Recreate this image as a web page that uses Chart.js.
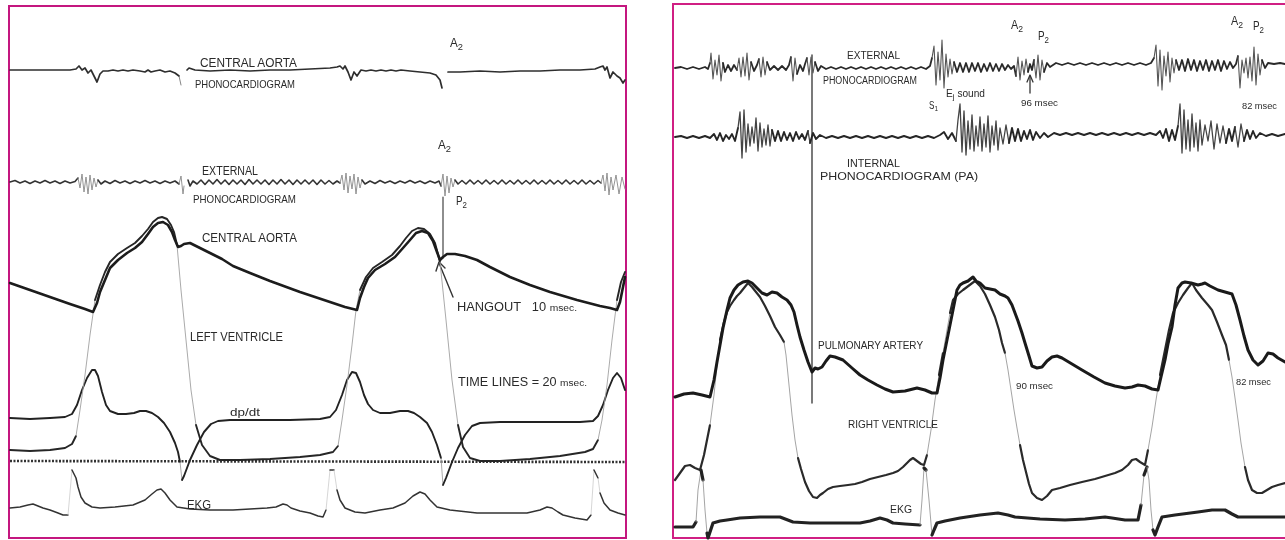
<!DOCTYPE html>
<html>
<head>
<meta charset="utf-8">
<script src="https://cdn.jsdelivr.net/npm/chart.js@4.4.1/dist/chart.umd.min.js"></script>
<style>
  body { margin: 0; width: 1285px; height: 540px; overflow: hidden; background: #fff; position: relative; }
  canvas { position: absolute; top: 0; }
  .frame { position: absolute; box-sizing: border-box; border: 2px solid #c4177f; }
  .note { position: absolute; white-space: nowrap; font-family: "Liberation Sans", Arial, sans-serif;
          color: #2a2a2a; line-height: 1; transform-origin: 0 50%; }
  .note sub { font-size: 0.8em; vertical-align: -0.35em; }
  .note small { font-size: 0.8em; }
</style>
</head>
<body>
<div class="frame" style="left:8px;top:5px;width:619px;height:534px"></div>
<div class="frame" style="left:672px;top:3px;width:640px;height:536px;border-color:#d01f83"></div>
<canvas id="leftPanel" width="640" height="540" style="left:0"></canvas>
<canvas id="rightPanel" width="640" height="540" style="left:645px"></canvas>
<script>
// ---- left panel: aortic / LV tracings (t = time, v = pen level) ----
const aortaPhono = [
  [10,70],[40,70],[70,70],[76,69],[79,66],[82,70],[85,68],[88,73],[91,70],[94,76],[97,82],[100,74],[103,71],
  [108,71],[113,70],[118,71],[123,70],[128,71],[133,70],[140,71],[145,72],[148,70],[151,72],[155,71],[160,70],
  [165,72],[170,71],[175,73],[179,76],[181,85], null,
  [187,70],[189,68],[195,70],[210,71],[230,70],[250,71],[270,70],[290,70],[310,69],[330,68],[337,67],[340,66],
  [343,69],[345,66],[348,72],[351,80],[354,72],[357,76],[361,70],[366,71],[371,70],[376,71],[381,70],[386,71],
  [391,70],[396,71],[401,70],[410,71],[420,72],[430,73],[436,75],[440,80],[442,88], null,
  [448,72],[460,72],[480,71],[500,72],[520,71],[540,71],[560,70],[580,70],[595,69],[600,67],[603,66],[605,70],
  [607,67],[610,78],[613,72],[617,76],[620,78],[623,83],[625,80]
];
const extPhonoL = [
  [10,182],[15,180.5],[20,183],[25,181],[30,183.5],[35,181],[40,183],[45,180.5],[50,183],[55,181],[60,183.5],
  [65,181],[70,183],[75,181.5],[78,178],[80,188],[82,174],[84,192],[86,177],[88,194],[90,175],[92,190],[94,178],
  [96,187],[98,180],[101,184],[105,181],[110,183.5],[115,180.5],[120,183],[125,181],[130,183.5],[135,181],
  [140,183],[145,180.5],[150,183],[155,181],[160,183.5],[165,181],[170,183],[175,181],[179,184],[181,176],
  [183,194],[184,186], null,
  [188,180],[190,186],[193,181],[197,184],[201,180],[205,184.5],[209,180],[213,184],[217,179.5],[221,184],
  [225,180],[229,184.5],[233,180],[237,184],[241,180],[245,184.5],[249,179.5],[253,184],[257,180],[261,184],
  [265,180],[269,184.5],[273,180],[277,184],[281,179.5],[285,184],[289,180],[293,184.5],[297,180],[301,184],
  [305,180],[309,184],[313,180],[317,184.5],[321,180],[325,184],[329,180.5],[333,184],[337,181],[340,183],
  [342,175],[344,190],[346,173],[348,193],[350,176],[352,189],[354,174],[356,194],[358,177],[360,188],[362,180],
  [365,184],[370,181],[375,183.5],[380,180.5],[385,183],[390,181],[395,183.5],[400,181],[405,183],[410,180.5],
  [415,183],[420,181],[425,183.5],[430,181],[435,183],[439,181],[441,186],[443,174],[445,196],[447,176],[449,193],
  [451,178],[453,187],[455,180],[458,184],[462,180.5],[466,184],[470,180],[474,184],[478,180.5],[482,184],
  [486,180],[490,184],[494,180.5],[498,184],[502,180],[506,184],[510,180.5],[514,184],[518,180],[522,184],
  [526,180.5],[530,184],[534,180],[538,184],[542,180.5],[546,184],[550,180],[554,184],[558,180.5],[562,184],
  [566,180],[570,184],[574,180.5],[578,184],[582,180],[586,184],[590,180.5],[594,184],[598,180.5],[601,183],
  [603,175],[605,191],[607,173],[609,195],[611,177],[613,190],[616,175],[619,194],[622,177],[625,189]
];
const aortaPressure = [
  [10,283],[30,290],[50,297],[70,304],[85,309],[93,312],[97,303],[100,292],[105,280],[110,268],[118,260],
  [127,253],[135,248],[142,242],[148,234],[153,227],[158,223],[163,222],[168,225],[172,232],[175,240],[178,247],
  [181,246],[184,244],[190,243],[200,248],[210,253],[222,259],[233,266],[250,273],[270,281],[300,292],[330,302],
  [345,307],[357,310],[360,298],[364,287],[368,278],[375,270],[385,264],[395,257],[403,248],[410,240],[416,233],
  [422,231],[428,233],[433,241],[437,252],[440,260],[443,257],[447,254],[455,254],[465,256],[477,260],[490,267],
  [510,277],[530,285],[550,292],[577,300],[600,306],[610,308],[617,310],[620,302],[622,292],[625,277]
];
const lvPressure = [
  [10,450],[30,451],[50,450],[65,448],[72,444],[76,436],[80,410],[85,375],[90,335],[95,300],[100,285],[105,272],
  [110,262],[118,254],[127,248],[135,243],[142,236],[148,229],[153,222],[158,218],[162,217],[167,219],[171,225],
  [174,232],[177,245],[181,290],[186,340],[191,390],[196,425],[202,445],[210,456],[220,460],[240,460],[270,459],
  [300,457],[320,455],[333,452],[338,446],[342,420],[347,385],[352,345],[356,310],[360,290],[366,277],[373,268],
  [382,262],[392,255],[400,246],[406,238],[412,231],[418,228],[424,229],[430,234],[435,243],[440,262],[446,320],
  [452,380],[458,425],[463,447],[470,458],[480,461],[500,461],[530,459],[560,456],[585,452],[593,449],[598,440],
  [602,420],[607,385],[612,340],[617,300],[621,282],[625,272]
];
const lvDpDt = [
  [10,418],[30,419],[50,418],[65,417],[72,414],[77,405],[82,390],[87,378],[92,370],[95,370],[98,376],[102,392],
  [106,405],[110,411],[118,414],[126,414],[134,413],[140,411],[146,411],[152,413],[158,417],[164,423],[170,432],
  [175,443],[178,452],[180,462],[182,480],[184,476],[190,460],[197,445],[204,432],[211,424],[218,421],[230,420],
  [260,420],[290,420],[320,419],[330,417],[336,410],[342,395],[347,380],[352,372],[356,373],[360,382],[364,395],
  [368,404],[373,410],[380,413],[390,413],[400,411],[408,411],[414,413],[420,417],[427,423],[432,432],[437,445],
  [441,458],[443,485],[446,478],[452,462],[458,448],[465,435],[472,426],[480,423],[500,422],[540,422],[580,422],
  [593,421],[598,416],[603,405],[608,390],[613,378],[617,373],[621,378],[625,390]
];
const timeBaseline = [[10,461],[626,462]];
const ekgL = [
  [10,508],[20,507],[28,505],[33,504],[38,506],[43,508],[50,510],[58,513],[63,515],[68,515],[72,470],[76,478],
  [78,487],[81,497],[85,503],[92,507],[100,508],[115,507],[133,505],[145,500],[152,494],[157,490],[161,489],
  [165,493],[170,500],[177,507],[190,509],[210,510],[233,510],[250,509],[267,508],[276,507],[283,504],[287,505],
  [291,508],[300,511],[310,513],[318,516],[323,517],[326,510],[330,470],[334,470],[337,490],[340,500],[345,508],
  [355,512],[365,513],[380,510],[393,508],[405,503],[413,496],[420,492],[425,494],[430,500],[437,507],[450,510],
  [477,513],[500,513],[527,513],[540,510],[547,507],[552,508],[558,512],[563,515],[575,518],[587,520],[591,515],
  [594,470],[598,478],[600,493],[604,503],[610,510],[618,513],[625,515]
];
const a2LineL = [[443,197],[443,258]];
const hangoutArrow = [[453,297],[439,263]];
const hangoutHead = [[436,271],[439,262],[445,268]];

// ---- right panel: pulmonary artery / RV tracings ----
const extPhonoR = [
  [675,68],[681,67],[687,69],[693,67],[699,69],[705,67],[708,69],[710,63],[711,53],[713,79],[715,60],[717,75],
  [719,55],[721,81],[723,63],[725,72],[728,65],[731,71],[734,65],[737,70],[739,58],[741,77],[743,57],[745,76],
  [747,53],[749,80],[751,62],[754,71],[757,65],[759,59],[761,77],[763,57],[765,75],[767,62],[770,70],[774,66],
  [778,70],[782,66],[786,70],[789,65],[791,57],[793,81],[795,58],[797,74],[800,65],[803,71],[805,64],[807,58],
  [809,75],[811,57],[813,73],[815,62],[818,71],[821,66],[826,69],[831,67],[836,69],[841,67],[846,69],[851,67],
  [856,69],[861,67],[866,69],[871,67],[876,69],[881,67],[886,69],[891,67],[896,69],[901,67],[906,69],[911,67],
  [916,69],[921,67],[926,69],[930,66],[932,58],[934,46],[936,85],[938,52],[940,80],[942,40],[944,88],[946,54],
  [948,77],[950,59],[952,74],[954,62],[957,72],[960,63],[963,72],[966,63],[969,72],[972,63],[975,71],[978,63],
  [981,72],[984,64],[987,71],[990,63],[993,71],[996,64],[999,71],[1002,64],[1005,70],[1008,65],[1011,69],
  [1014,66],[1016,76],[1018,57],[1020,80],[1022,61],[1024,75],[1026,59],[1028,72],[1030,64],[1032,70],[1034,60],
  [1036,78],[1038,55],[1040,80],[1042,60],[1044,72],[1047,63],[1050,67],[1056,63],[1062,65],[1068,63],[1074,65],
  [1080,63],[1086,65],[1092,63],[1098,65],[1104,63],[1110,65],[1116,63],[1122,65],[1128,63],[1134,65],[1140,63],
  [1146,65],[1151,63],[1154,58],[1156,45],[1158,86],[1160,50],[1162,90],[1164,56],[1166,76],[1168,52],[1170,82],
  [1172,58],[1174,73],[1176,60],[1179,70],[1182,60],[1185,71],[1188,59],[1191,70],[1194,60],[1197,71],[1200,61],
  [1203,70],[1206,60],[1209,71],[1212,61],[1215,70],[1218,60],[1221,71],[1224,61],[1227,69],[1230,62],[1233,68],
  [1236,64],[1238,56],[1240,88],[1242,60],[1244,73],[1246,58],[1248,78],[1250,57],[1252,81],[1254,47],[1256,85],
  [1258,54],[1260,75],[1262,60],[1265,68],[1268,63],[1274,64],[1280,63],[1285,64]
];
const intPhonoR = [
  [675,137],[681,136],[687,138],[693,136],[699,138],[705,136],[710,138],[714,134],[717,140],[720,133],[723,141],
  [726,135],[729,139],[732,134],[735,141],[738,128],[740,112],[742,158],[744,110],[746,152],[748,124],[750,146],
  [752,127],[754,143],[756,118],[758,151],[760,123],[762,147],[764,129],[766,145],[768,125],[770,146],[772,130],
  [775,141],[778,131],[781,141],[784,132],[787,140],[790,133],[793,141],[796,132],[799,139],[802,134],[805,140],
  [808,131],[810,143],[813,133],[816,139],[820,135],[826,138],[832,136],[838,138],[844,136],[850,138],[856,136],
  [862,138],[868,136],[874,138],[880,136],[886,138],[892,136],[898,138],[904,136],[910,138],[916,136],[922,138],
  [928,136],[934,138],[940,135],[944,132],[948,139],[952,133],[956,141],[958,120],[960,104],[962,152],[964,111],
  [966,155],[968,121],[970,149],[972,115],[974,151],[976,126],[978,146],[980,117],[982,151],[984,124],[986,147],
  [988,116],[990,152],[992,126],[994,145],[996,121],[998,150],[1000,128],[1003,144],[1006,125],[1009,143],
  [1012,128],[1015,141],[1018,129],[1021,141],[1024,131],[1027,139],[1030,130],[1033,140],[1036,132],[1040,138],
  [1044,133],[1048,137],[1054,133],[1060,135],[1066,133],[1072,135],[1078,133],[1084,135],[1090,133],[1096,135],
  [1102,133],[1108,135],[1114,133],[1120,135],[1126,133],[1132,135],[1138,133],[1144,135],[1150,133],[1156,135],
  [1160,131],[1163,138],[1166,129],[1169,141],[1172,130],[1175,140],[1178,126],[1180,104],[1182,153],[1184,110],
  [1186,149],[1188,120],[1190,151],[1192,114],[1194,147],[1196,123],[1198,151],[1200,120],[1202,145],[1205,125],
  [1208,141],[1211,121],[1214,149],[1217,124],[1220,143],[1223,126],[1226,143],[1229,129],[1232,141],[1235,127],
  [1238,147],[1241,124],[1244,141],[1247,130],[1250,139],[1253,131],[1256,138],[1260,133],[1266,136],[1272,134],
  [1278,136],[1285,134]
];
const paPressure = [
  [675,397],[684,394],[693,393],[702,395],[710,397],[714,380],[717,362],[720,345],[723,328],[727,310],[730,298],
  [734,290],[738,285],[743,282],[748,281],[752,283],[757,288],[762,293],[767,295],[772,292],[777,293],[782,297],
  [787,300],[791,305],[794,312],[797,325],[800,337],[804,350],[808,362],[812,372],[815,368],[818,369],[822,367],
  [826,361],[830,356],[835,357],[843,360],[852,368],[860,375],[868,380],[877,385],[885,389],[893,392],[905,391],
  [917,388],[925,390],[932,393],[937,393],[940,378],[943,360],[947,340],[950,325],[954,305],[957,290],[960,285],
  [963,283],[968,281],[973,277],[976,281],[980,283],[985,288],[990,289],[995,290],[1000,294],[1005,296],
  [1008,298],[1012,305],[1015,313],[1018,321],[1022,333],[1025,343],[1029,356],[1032,366],[1037,368],[1042,367],
  [1047,361],[1052,357],[1057,356],[1062,358],[1072,364],[1082,370],[1094,377],[1105,383],[1115,386],[1125,388],
  [1132,387],[1138,385],[1145,386],[1152,389],[1158,390],[1161,377],[1165,360],[1168,344],[1172,327],[1175,305],
  [1178,288],[1182,283],[1185,282],[1191,283],[1198,285],[1202,284],[1205,283],[1210,286],[1218,290],[1225,292],
  [1232,294],[1236,305],[1240,320],[1244,336],[1248,350],[1253,360],[1258,365],[1263,361],[1268,353],[1273,354],
  [1278,358],[1285,362]
];
const rvPressure = [
  [675,480],[680,473],[685,466],[690,465],[695,468],[700,470],[704,455],[707,440],[710,425],[714,395],[717,365],
  [720,340],[724,322],[727,312],[730,306],[734,300],[737,296],[740,293],[744,288],[748,283],[752,287],[756,292],
  [760,297],[765,306],[770,316],[775,327],[780,335],[784,342],[786,355],[788,375],[790,395],[792,415],[795,440],
  [798,458],[801,469],[805,482],[809,491],[813,497],[817,498],[820,495],[823,493],[828,489],[833,487],[840,486],
  [848,485],[855,484],[862,482],[870,479],[878,477],[886,475],[893,473],[898,471],[903,467],[907,463],[910,460],
  [913,458],[917,461],[921,464],[924,465],[927,455],[931,430],[935,400],[939,375],[943,353],[947,330],[950,313],
  [953,300],[958,294],[963,290],[967,287],[971,284],[975,281],[980,286],[985,294],[990,305],[995,317],[999,330],
  [1002,343],[1005,353],[1008,370],[1011,390],[1014,410],[1017,428],[1020,445],[1023,460],[1026,472],[1029,484],
  [1032,493],[1037,498],[1042,500],[1047,496],[1052,490],[1060,488],[1070,485],[1082,482],[1095,479],[1105,476],
  [1115,473],[1122,470],[1128,465],[1132,460],[1136,459],[1140,462],[1145,465],[1148,450],[1152,427],[1156,400],
  [1160,375],[1165,350],[1169,330],[1173,313],[1178,303],[1183,295],[1188,288],[1192,283],[1196,290],[1202,298],
  [1208,305],[1212,310],[1217,322],[1222,335],[1226,345],[1229,360],[1232,377],[1235,398],[1238,420],[1241,443],
  [1245,467],[1248,480],[1252,490],[1257,493],[1262,493],[1267,490],[1272,487],[1278,485],[1285,483]
];
const ekgR = [
  [675,527],[685,527],[693,527],[696,522],[698,490],[701,470],[703,480],[705,510],[707,533],[708,538],[710,532],
  [713,523],[720,521],[727,520],[740,518],[760,517],[780,517],[793,522],[810,523],[827,523],[845,523],[860,523],
  [870,521],[880,518],[887,520],[893,523],[905,524],[920,525],[922,500],[924,468],[926,470],[929,500],[932,535],
  [934,530],[937,523],[945,521],[960,518],[980,515],[998,513],[1008,515],[1015,517],[1040,519],[1065,520],
  [1085,519],[1105,517],[1112,518],[1125,520],[1138,520],[1141,505],[1144,475],[1147,467],[1149,480],[1151,510],
  [1153,530],[1155,535],[1158,527],[1162,517],[1175,515],[1198,512],[1212,510],[1225,510],[1232,514],[1238,517],
  [1250,517],[1265,517],[1285,517]
];
const p2LineR = [[812,55],[812,403]];
const arrow96 = [[1030,93],[1030,76]];
const arrow96Head = [[1027,82],[1030,75],[1033,82]];

// ---- labels on the record ----
const notesLeft = [
  { text: 'CENTRAL AORTA', t: 200, v: 63, w: 97, size: 12 },
  { text: 'PHONOCARDIOGRAM', t: 195, v: 84, w: 100, size: 11 },
  { text: 'A<sub>2</sub>', t: 450, v: 44, w: 13, size: 12 },
  { text: 'A<sub>2</sub>', t: 438, v: 146, w: 13, size: 12 },
  { text: 'EXTERNAL', t: 202, v: 171, w: 56, size: 12 },
  { text: 'PHONOCARDIOGRAM', t: 193, v: 199, w: 103, size: 11 },
  { text: 'P<sub>2</sub>', t: 456, v: 202, w: 11, size: 12 },
  { text: 'CENTRAL AORTA', t: 202, v: 238, w: 95, size: 12 },
  { text: 'LEFT VENTRICLE', t: 190, v: 337, w: 93, size: 12 },
  { text: 'HANGOUT&nbsp;&nbsp; 10 <small>msec.</small>', t: 457, v: 307, w: 120, size: 12 },
  { text: 'TIME LINES = 20 <small>msec.</small>', t: 458, v: 382, w: 129, size: 12 },
  { text: 'dp/dt', t: 230, v: 412, w: 30, size: 11 },
  { text: 'EKG', t: 187, v: 505, w: 24, size: 12 }
];
const notesRight = [
  { text: 'EXTERNAL', t: 847, v: 55, w: 53, size: 10.5 },
  { text: 'PHONOCARDIOGRAM', t: 823, v: 81, w: 94, size: 10 },
  { text: 'E<sub>j</sub> sound', t: 946, v: 95, w: 39, size: 10 },
  { text: 'S<sub>1</sub>', t: 929, v: 107, w: 9, size: 10 },
  { text: 'A<sub>2</sub>', t: 1011, v: 26, w: 12, size: 12 },
  { text: 'P<sub>2</sub>', t: 1038, v: 37, w: 11, size: 12 },
  { text: '96 msec', t: 1021, v: 103, w: 37, size: 9 },
  { text: 'A<sub>2</sub>', t: 1231, v: 22, w: 12, size: 12 },
  { text: 'P<sub>2</sub>', t: 1253, v: 27, w: 11, size: 12 },
  { text: '82 msec', t: 1242, v: 106, w: 35, size: 9 },
  { text: 'INTERNAL', t: 847, v: 163, w: 53, size: 10.5 },
  { text: 'PHONOCARDIOGRAM (PA)', t: 820, v: 176, w: 158, size: 11 },
  { text: 'PULMONARY ARTERY', t: 818, v: 345, w: 105, size: 10.5 },
  { text: 'RIGHT VENTRICLE', t: 848, v: 424, w: 90, size: 10.5 },
  { text: '90 msec', t: 1016, v: 386, w: 37, size: 9 },
  { text: '82 msec', t: 1236, v: 382, w: 35, size: 9 },
  { text: 'EKG', t: 890, v: 509, w: 22, size: 11 }
];

function series(arr) {
  return arr.map((p, i) => p ? { x: p[0], y: p[1] } : { x: arr[i - 1][0], y: null });
}

// fast pen strokes come out thin and faint on the paper
function steepness(c) {
  const dx = Math.abs(c.p1.x - c.p0.x), dy = Math.abs(c.p1.y - c.p0.y);
  return dy / Math.max(dx, 0.1);
}

function trace(arr, width, color, limit, thin) {
  const ds = {
    data: series(arr), borderWidth: width, borderColor: color,
    pointRadius: 0, tension: 0, spanGaps: false, fill: false,
    borderCapStyle: 'round', borderJoinStyle: 'round'
  };
  if (limit) {
    const t = Object.assign({ width: 0.9, color: '#999' }, thin || {});
    ds.segment = {
      borderWidth: c => steepness(c) > limit ? t.width : undefined,
      borderColor: c => steepness(c) > limit ? t.color : undefined
    };
  }
  return ds;
}

function drawPanel(id, tMin, tMax, datasets) {
  return new Chart(document.getElementById(id), {
    type: 'line',
    data: { datasets },
    options: {
      responsive: false,
      animation: false,
      events: [],
      layout: { padding: 0 },
      plugins: { legend: { display: false }, tooltip: { enabled: false } },
      scales: {
        x: { type: 'linear', min: tMin, max: tMax, display: false },
        y: { type: 'linear', min: 0, max: 540, reverse: true, display: false }
      }
    }
  });
}

function placeNotes(chart, canvasLeft, notes) {
  notes.forEach(n => {
    const el = document.createElement('div');
    el.className = 'note';
    el.innerHTML = n.text;
    el.style.fontSize = n.size + 'px';
    document.body.appendChild(el);
    const w = el.getBoundingClientRect().width;
    el.style.left = (canvasLeft + chart.scales.x.getPixelForValue(n.t)) + 'px';
    el.style.top = chart.scales.y.getPixelForValue(n.v) + 'px';
    el.style.transform = 'translateY(-50%) scaleX(' + (n.w / w).toFixed(3) + ')';
  });
}

const baseline = trace(timeBaseline, 2.6, '#333');
baseline.borderDash = [2, 1.5];
baseline.borderCapStyle = 'butt';

const leftChart = drawPanel('leftPanel', 0, 640, [
  trace(aortaPhono, 1.7, '#2e2e2e', 4, { color: '#777' }),
  trace(extPhonoL, 1.6, '#333', 3, { color: '#888' }),
  trace(aortaPressure, 2.6, '#1c1c1c'),
  trace(lvPressure, 1.9, '#262626', 4.5, { color: '#a0a0a0' }),
  trace(lvDpDt, 1.9, '#222', 6, { color: '#a0a0a0' }),
  baseline,
  trace(ekgL, 1.5, '#333', 5, { width: 0.7, color: '#c4c4c4' }),
  trace(a2LineL, 1.2, '#444'),
  trace(hangoutArrow, 1.4, '#333'),
  trace(hangoutHead, 1.4, '#333')
]);

const rightChart = drawPanel('rightPanel', 645, 1285, [
  trace(extPhonoR, 1.8, '#2a2a2a', 5, { width: 1.1, color: '#555' }),
  trace(intPhonoR, 1.9, '#262626', 5, { width: 1.3, color: '#444' }),
  trace(paPressure, 3, '#1a1a1a', 9),
  trace(rvPressure, 2.2, '#2a2a2a', 5.5, { color: '#9a9a9a' }),
  trace(ekgR, 3.2, '#222', 6, { width: 0.9, color: '#9a9a9a' }),
  trace(p2LineR, 1.3, '#333'),
  trace(arrow96, 1.3, '#333'),
  trace(arrow96Head, 1.3, '#333')
]);

placeNotes(leftChart, 0, notesLeft);
placeNotes(rightChart, 645, notesRight);
</script>
</body>
</html>
